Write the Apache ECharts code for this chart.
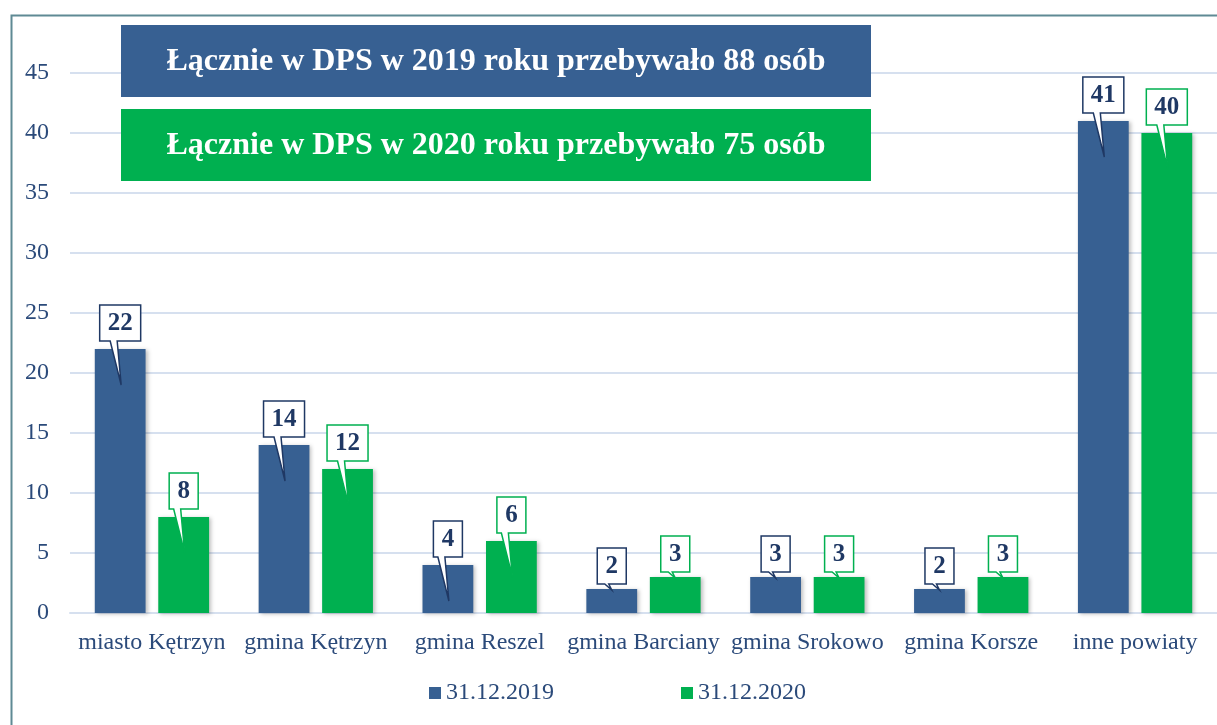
<!DOCTYPE html>
<html>
<head>
<meta charset="utf-8">
<script src="https://cdn.jsdelivr.net/npm/echarts@6/dist/echarts.min.js"></script>
<style>
  html, body { margin: 0; padding: 0; background: #fff; }
  #chart { width: 1217px; height: 725px; }
</style>
</head>
<body>
<div id="chart"></div>
<script>
// dane
const categories = ['miasto Kętrzyn', 'gmina Kętrzyn', 'gmina Reszel', 'gmina Barciany', 'gmina Srokowo', 'gmina Korsze', 'inne powiaty']
const values2019 = [22, 14, 4, 2, 3, 2, 41]
const values2020 = [8, 12, 6, 3, 3, 3, 40]
const seriesNames = ['31.12.2019', '31.12.2020']
const headerLines = [
  'Łącznie w DPS w 2019 roku przebywało 88 osób',
  'Łącznie w DPS w 2020 roku przebywało 75 osób',
]

const BLUE = '#376092'
const GREEN = '#00B050'
const NAVY = '#1F3864'
const LABEL = '#2B4A7A'
const SERIF = '"Liberation Serif", "Times New Roman", serif'

// przesunięcie środka słupka względem środka kategorii (barWidth 31%, barGap 25%)
const BAR_SHIFT = 0.19375

// dymek z wartością nad słupkiem
const callout = (color, sign) => (params, api) => {
  const idx = api.value(0)
  const v = api.value(1)
  const bw = api.size([1, 0])[0]
  const p = api.coord([idx, v])
  const base = api.coord([idx, 0])
  const cx = p[0] + sign * bw * BAR_SHIFT
  const top = p[1]
  const big = base[1] - top > 40
  const w = String(v).length > 1 ? 41 : 29
  const bh = 36
  const bottom = top - (big ? 8 : 5)
  const tipY = big ? top + 36 : top + 1
  const l = cx - w / 2, r = cx + w / 2, t = bottom - bh
  const points = [
    [l, t], [r, t], [r, bottom],
    [cx - 3, bottom],
    [cx + (big ? 1 : 0), tipY],
    [cx - (big ? 10 : 7), bottom],
    [l, bottom],
  ]
  return {
    type: 'group',
    children: [
      {
        type: 'polygon',
        shape: { points },
        style: { fill: '#fff', stroke: color, lineWidth: 1.5 },
      },
      {
        type: 'text',
        style: {
          text: String(v),
          x: cx,
          y: t + bh / 2 + 1,
          align: 'center',
          verticalAlign: 'middle',
          font: 'bold 25px ' + SERIF,
          fill: NAVY,
        },
      },
    ],
  }
}

const barShadow = {
  shadowColor: 'rgba(0,0,0,0.25)',
  shadowBlur: 4,
  shadowOffsetX: 2,
  shadowOffsetY: 1,
}

const headerBox = (text, y, color) => ({
  type: 'group',
  left: 121,
  top: y,
  z: 20,
  children: [
    { type: 'rect', z: 20, shape: { x: 0, y: 0, width: 750, height: 72 }, style: { fill: color } },
    {
      type: 'text',
      z: 21,
      style: {
        text,
        x: 375,
        y: 37,
        align: 'center',
        verticalAlign: 'middle',
        font: 'bold 32px ' + SERIF,
        fill: '#fff',
      },
    },
  ],
})

const chart = echarts.init(document.getElementById('chart'))
chart.setOption({
  animation: false,
  backgroundColor: '#fff',
  textStyle: { fontFamily: SERIF },
  grid: { left: 70, right: -12, top: 73, bottom: 112, containLabel: false },
  legend: {
    data: seriesNames,
    left: 424,
    top: 676,
    itemWidth: 12,
    itemHeight: 12,
    itemGap: 127,
    icon: 'rect',
    textStyle: { fontSize: 24, color: LABEL, fontFamily: SERIF },
  },
  xAxis: {
    type: 'category',
    data: categories,
    axisTick: { show: false },
    axisLine: { lineStyle: { color: '#D6E0EF', width: 2 } },
    axisLabel: { fontSize: 24, color: LABEL, margin: 18, interval: 0 },
  },
  yAxis: {
    type: 'value',
    min: 0,
    max: 45,
    interval: 5,
    axisLine: { show: false },
    axisTick: { show: false },
    splitLine: { lineStyle: { color: '#D6E0EF', width: 2 } },
    axisLabel: { fontSize: 24, color: LABEL, margin: 21 },
  },
  series: [
    {
      name: seriesNames[0],
      type: 'bar',
      data: values2019,
      barWidth: '31%',
      barGap: '25%',
      itemStyle: Object.assign({ color: BLUE }, barShadow),
    },
    {
      name: seriesNames[1],
      type: 'bar',
      data: values2020,
      barWidth: '31%',
      barGap: '25%',
      itemStyle: Object.assign({ color: GREEN }, barShadow),
    },
    {
      name: 'c2019',
      type: 'custom',
      renderItem: callout(NAVY, -1),
      data: values2019.map((v, i) => [i, v]),
      encode: { x: 0, y: 1 },
      clip: false,
      z: 5,
    },
    {
      name: 'c2020',
      type: 'custom',
      renderItem: callout(GREEN, 1),
      data: values2020.map((v, i) => [i, v]),
      encode: { x: 0, y: 1 },
      clip: false,
      z: 5,
    },
  ],
  graphic: [
    {
      type: 'rect',
      left: 9,
      top: 13,
      shape: { x: 0, y: 0, width: 1300, height: 800 },
      style: { fill: 'none', stroke: '#5F8A94', lineWidth: 2 },
      z: 0,
      silent: true,
    },
    headerBox(headerLines[0], 25, BLUE),
    headerBox(headerLines[1], 109, GREEN),
  ],
})
</script>
</body>
</html>
